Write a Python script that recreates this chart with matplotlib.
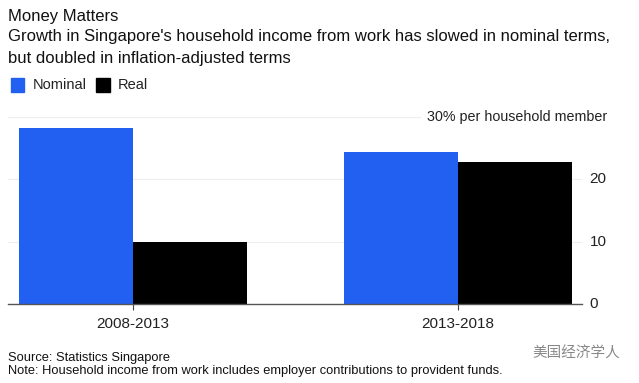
import matplotlib
matplotlib.use("Agg")
import matplotlib.pyplot as plt
from matplotlib.patches import Rectangle

categories = ["2008-2013", "2013-2018"]
nominal = [28.3, 24.4]
real = [9.9, 22.8]
yticks = [0, 10, 20]
W, H = 639, 383
plt.rcParams['font.family'] = ['Liberation Sans', 'DejaVu Sans']

fig = plt.figure(figsize=(W/100, H/100), dpi=100, facecolor='white')
L, R, B, T = 8, 582, 304, 117
ax = fig.add_axes([L/W, 1-B/H, (R-L)/W, (B-T)/H])
x = [0, 1]
bw = 0.35
ax.bar([i-bw/2 for i in x], nominal, bw, color='#2160f0', zorder=3, label='Nominal')
ax.bar([i+bw/2 for i in x], real, bw, color='#000000', zorder=3, label='Real')
ax.set_xlim(-0.385, 1.382)
ax.set_ylim(0, 30)
for s in ['top', 'left', 'right']:
    ax.spines[s].set_visible(False)
ax.spines['bottom'].set_color('#555555')
ax.spines['bottom'].set_linewidth(1.0)
ax.spines['bottom'].set_zorder(4)
ax.set_xticks(x, categories, fontsize=11, color='#222222')
ax.tick_params(axis='x', length=4, width=0.8, color='#444444', pad=5)
ax.yaxis.tick_right()
ax.set_yticks(yticks, [str(v) for v in yticks], fontsize=11, color='#222222')
ax.tick_params(axis='y', length=0, pad=5.5)
for lab in ax.get_yticklabels():
    lab.set_verticalalignment('center')
ax.grid(axis='y', color='#eeeeee', lw=0.8, zorder=0)
ax.axhline(30, xmax=(420-L)/(R-L), color='#eeeeee', lw=0.8, zorder=0)

def t(px, py, s, size, color='#111111', **kw):
    fig.text(px/W, 1-py/H, s, fontsize=size, color=color, va='center', ha=kw.pop('ha', 'left'), **kw)

t(8, 16, "Money Matters", 11.98)
t(8, 37, "Growth in Singapore's household income from work has slowed in nominal terms,", 11.98)
t(8, 58, "but doubled in inflation-adjusted terms", 11.98)
fig.add_artist(Rectangle((11/W, 1-92/H), 13/W, 14/H, transform=fig.transFigure, color='#2160f0'))
fig.add_artist(Rectangle((96/W, 1-92/H), 14/W, 14/H, transform=fig.transFigure, color='#000000'))
t(33, 85, "Nominal", 10.5, '#222222')
t(118, 85, "Real", 10.5, '#222222')
t(427, 116.5, "30% per household member", 10.3, '#222222')
t(8, 358, "Source: Statistics Singapore", 9.3)
t(8, 371, "Note: Household income from work includes employer contributions to provident funds.", 9.3)
fig.text(620/W, 1-354/H, "美国经济学人", fontsize=10.5, color='#888888', ha='right', va='center',
         family=['Noto Sans CJK SC', 'DejaVu Sans'])
fig.savefig('out.png', dpi=100)
